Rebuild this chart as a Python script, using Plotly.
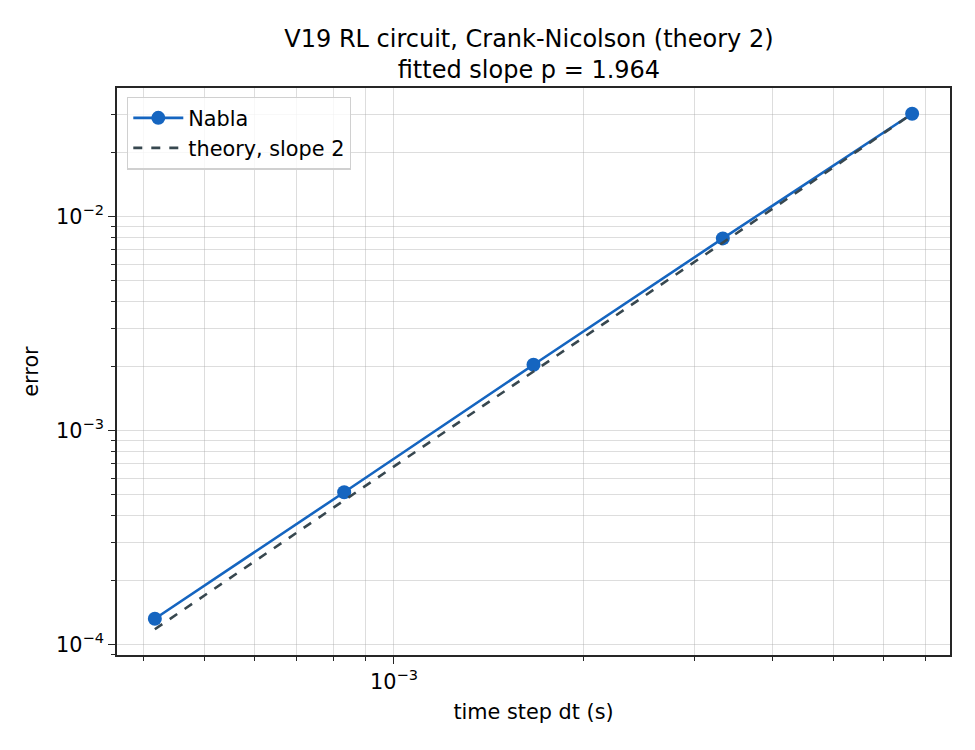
import numpy as np
import plotly.graph_objects as go

dt = [1/2400, 1/1200, 1/600, 1/300, 1/150]
err = [1.32e-4, 5.15e-4, 2.03e-3, 7.9e-3, 3.02e-2]
theory_slope = 2
series_name = "Nabla"
theory_name = "theory, slope 2"
title_text = "V19 RL circuit, Crank-Nicolson (theory 2)<br>fitted slope p = 1.964"

dt_a = np.array(dt)
err_a = np.array(err)
theory = err_a[-1] * (dt_a / dt_a[-1]) ** theory_slope

def log_range(vals):
    lo, hi = np.log10(np.min(vals)), np.log10(np.max(vals))
    m = 0.05 * (hi - lo)
    return [lo - m, hi + m]

xr = log_range(dt_a)
yr = log_range(np.concatenate([err_a, theory]))

def minor_vals(r):
    out = []
    for d in range(int(np.floor(r[0])) - 1, int(np.ceil(r[1])) + 1):
        for k in range(2, 10):
            out.append(k * 10.0 ** d)
    return out

def major(r):
    ds = [d for d in range(int(np.floor(r[0])), int(np.ceil(r[1])) + 1) if r[0] <= d <= r[1]]
    return [10.0 ** d for d in ds], ["10<sup>\u2212%d</sup>" % (-d) for d in ds]

xt, xtt = major(xr)
yt, ytt = major(yr)

blue = "#1565c0"
dark = "#37474f"
grid = "rgba(170,170,170,0.4)"
font = "DejaVu Sans"

fig = go.Figure()
fig.add_trace(go.Scatter(x=dt, y=err, mode="lines+markers", name=series_name,
                         line=dict(color=blue, width=2.6),
                         marker=dict(color=blue, size=14)))
fig.add_trace(go.Scatter(x=dt_a, y=theory, mode="lines", name=theory_name,
                         line=dict(color=dark, width=2.6, dash="dash")))

axis_common = dict(type="log", showline=True, linecolor="#262626", linewidth=1.6,
                   mirror=True, ticks="outside", ticklen=7, tickwidth=1.4,
                   tickcolor="#262626", showgrid=True, gridcolor=grid, gridwidth=1.3,
                   zeroline=False, tickfont=dict(size=20.8, color="black", family=font))

fig.update_layout(
    width=975, height=750,
    plot_bgcolor="white", paper_bgcolor="white",
    margin=dict(l=117, r=25, t=88, b=95),
    font=dict(family=font, color="black"),
    title=dict(text=title_text, x=0.5425, xanchor="center", y=1 - 47 / 750,
               yref="container", yanchor="middle", font=dict(size=24, family=font)),
    xaxis=dict(range=xr, tickvals=xt, ticktext=xtt,
               title=dict(text="time step dt (s)", font=dict(size=20.8), standoff=12),
               minor=dict(tickvals=minor_vals(xr), ticks="outside", ticklen=4,
                          tickcolor="#262626", showgrid=True, gridcolor=grid, gridwidth=1.3),
               **axis_common),
    yaxis=dict(range=yr, tickvals=yt, ticktext=ytt,
               title=dict(text="error", font=dict(size=20.8), standoff=12),
               minor=dict(tickvals=minor_vals(yr), ticks="outside", ticklen=4,
                          tickcolor="#262626", showgrid=True, gridcolor=grid, gridwidth=1.3),
               **axis_common),
    legend=dict(x=0.012, y=0.985, xanchor="left", yanchor="top", itemwidth=50,
                bgcolor="rgba(255,255,255,0.8)", bordercolor="#d0d0d0", borderwidth=1.3,
                font=dict(size=20.8, family=font), tracegroupgap=4),
    showlegend=True,
)

fig.write_html("out.html", config={"displayModeBar": False},
               post_script="document.body.style.margin='0';")
